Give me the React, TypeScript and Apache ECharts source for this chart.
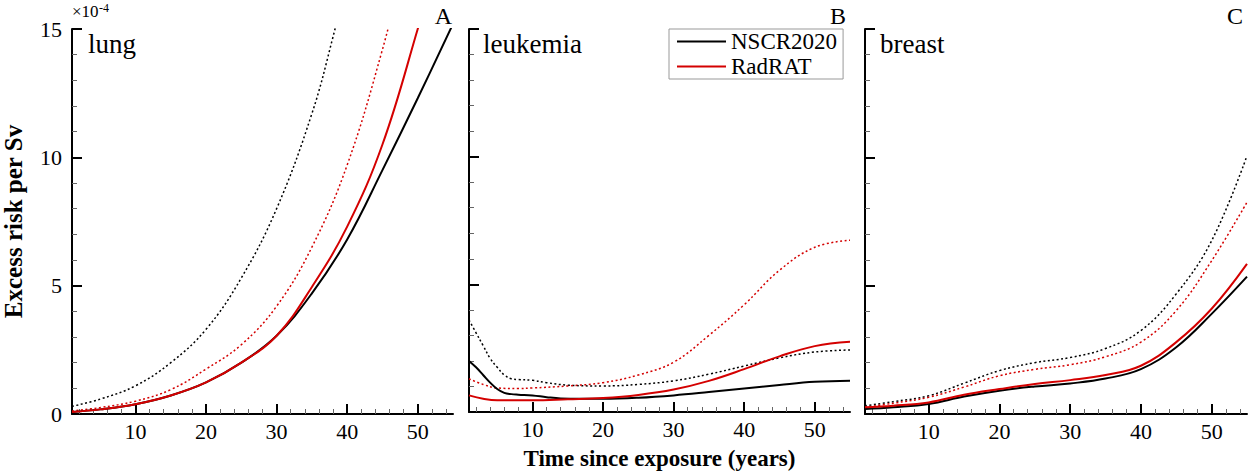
import React, { useEffect, useRef } from "react";
import * as echarts from "echarts";

const FONT = "Liberation Serif, Times New Roman, serif";
const RED = "#d40000";
const BLACK = "#000000";

const panelNames = ["lung", "leukemia", "breast"];
const panelLetters = ["A", "B", "C"];
const majorXTicks = [10, 20, 30, 40, 50];
const minorXTicks = [2, 4, 6, 8, 12, 14, 16, 18, 22, 24, 26, 28, 32, 34, 36, 38, 42, 44, 46, 48, 52, 54];
const legendNames = ["NSCR2020", "RadRAT"];

// lung (×10^-4 per Sv)
const lungNscr = [[1, 0.08], [5, 0.18], [10, 0.38], [15, 0.72], [20, 1.23], [25, 2.0], [30, 3.05], [35, 4.7], [40, 6.8], [45, 9.5], [50, 12.3], [55, 15.2]];
const lungRad = [[1, 0.08], [5, 0.18], [10, 0.38], [15, 0.72], [20, 1.23], [25, 2.0], [30, 3.05], [35, 4.95], [40, 7.3], [45, 10.5], [50, 15.0], [52, 17.0]];
const lungNscrUpper = [[1, 0.3], [5, 0.58], [10, 1.1], [15, 2.0], [20, 3.3], [25, 5.3], [30, 8.0], [35, 11.7], [38, 14.7], [40, 17.0]];
const lungRadUpper = [[1, 0.12], [5, 0.25], [10, 0.5], [15, 0.95], [20, 1.75], [25, 2.7], [30, 4.2], [35, 6.5], [40, 9.7], [45, 14.2], [48, 17.5]];

// leukemia
const leukNscr = [[1, 2.0], [2, 1.75], [3, 1.45], [4, 1.15], [5, 0.9], [6, 0.75], [7, 0.7], [8, 0.68], [10, 0.65], [12, 0.58], [14, 0.53], [17, 0.52], [20, 0.52], [25, 0.56], [30, 0.65], [35, 0.78], [40, 0.92], [45, 1.06], [50, 1.18], [55, 1.22]];
const leukNscrUpper = [[1, 3.6], [2, 3.1], [3, 2.6], [4, 2.1], [5, 1.75], [6, 1.45], [7, 1.3], [8, 1.27], [10, 1.24], [12, 1.15], [15, 1.05], [20, 1.02], [25, 1.08], [30, 1.22], [35, 1.48], [40, 1.8], [45, 2.12], [50, 2.35], [55, 2.43]];
const leukRad = [[1, 0.65], [3, 0.52], [5, 0.46], [10, 0.46], [15, 0.5], [20, 0.55], [25, 0.67], [30, 0.88], [35, 1.22], [40, 1.68], [45, 2.18], [50, 2.58], [55, 2.75]];
const leukRadUpper = [[1, 1.3], [3, 1.08], [5, 0.94], [8, 0.92], [10, 0.94], [15, 1.02], [20, 1.15], [25, 1.45], [30, 1.95], [35, 3.0], [40, 4.2], [45, 5.55], [50, 6.45], [55, 6.73]];

// breast
const breastNscr = [[1, 0.19], [5, 0.26], [10, 0.39], [15, 0.68], [20, 0.91], [25, 1.07], [30, 1.19], [35, 1.38], [40, 1.75], [45, 2.6], [50, 3.9], [55, 5.35]];
const breastRad = [[1, 0.26], [5, 0.32], [10, 0.45], [15, 0.75], [20, 0.97], [25, 1.17], [30, 1.32], [35, 1.52], [40, 1.88], [45, 2.8], [50, 4.1], [55, 5.85]];
const breastNscrUpper = [[1, 0.32], [5, 0.48], [10, 0.71], [15, 1.2], [20, 1.69], [25, 2.0], [30, 2.2], [35, 2.55], [40, 3.25], [45, 4.68], [50, 6.75], [55, 10.06]];
const breastRadUpper = [[1, 0.26], [5, 0.42], [10, 0.65], [15, 1.05], [20, 1.49], [25, 1.74], [30, 1.92], [35, 2.23], [40, 2.8], [45, 4.03], [50, 5.97], [55, 8.25]];

const panels = [
  { nscr: lungNscr, rad: lungRad, nscrU: lungNscrUpper, radU: lungRadUpper },
  { nscr: leukNscr, rad: leukRad, nscrU: leukNscrUpper, radU: leukRadUpper },
  { nscr: breastNscr, rad: breastRad, nscrU: breastNscrUpper, radU: breastRadUpper },
];

const gridLefts = [72, 469, 865];
const gridWidths = [381, 381, 382];

export default function App() {
  const ref = useRef<HTMLDivElement>(null);
  useEffect(() => {
    if (!ref.current) return;
    const chart = echarts.init(ref.current, null, { renderer: "svg" });
    const grids = gridLefts.map((l, i) => ({ left: l, top: 29, width: gridWidths[i], height: 385 }));
    const xAxis: any[] = [];
    const yAxis: any[] = [];
    const series: any[] = [];
    panels.forEach((p, i) => {
      xAxis.push({
        type: "value", gridIndex: i, min: 1, max: 55, position: "bottom",
        axisLine: { show: true, onZero: false, lineStyle: { color: "#000", width: 2 } },
        axisTick: { show: true, inside: true, length: 10, customValues: majorXTicks, lineStyle: { color: "#000", width: 2 } },
        axisLabel: { show: true, customValues: majorXTicks, margin: 6, color: "#000", fontSize: 22, fontFamily: FONT },
        splitLine: { show: false },
        name: i === 1 ? "Time since exposure (years)" : "",
        nameLocation: "middle", nameGap: 35,
        nameTextStyle: { fontFamily: FONT, fontSize: 23, fontWeight: "bold", color: "#000" },
      });
      xAxis.push({
        type: "value", gridIndex: i, min: 1, max: 55, position: "bottom", offset: 0,
        axisLine: { show: false, onZero: false },
        axisTick: { show: true, inside: true, length: 5, customValues: minorXTicks, lineStyle: { color: "#666", width: 1 } },
        axisLabel: { show: false },
        splitLine: { show: false },
      });
      yAxis.push({
        type: "value", gridIndex: i, min: 0, max: 15, interval: 5,
        axisLine: { show: true, onZero: false, lineStyle: { color: "#000", width: 2 } },
        axisTick: { show: true, inside: true, length: 10, lineStyle: { color: "#000", width: 2 } },
        minorTick: { show: true, splitNumber: 5, length: 5, lineStyle: { color: "#666", width: 1 } },
        axisLabel: { show: i === 0, margin: 10, color: "#000", fontSize: 22, fontFamily: FONT },
        splitLine: { show: false },
        name: i === 0 ? "Excess risk per Sv" : "",
        nameLocation: "middle", nameGap: 46,
        nameTextStyle: { fontFamily: FONT, fontSize: 25, fontWeight: "bold", color: "#000" },
      });
      const common = { type: "line", xAxisIndex: 2 * i, yAxisIndex: i, symbol: "none", smooth: 0.4, clip: true };
      series.push({ ...common, name: "NSCR2020 upper", data: p.nscrU, itemStyle: { color: BLACK }, lineStyle: { color: BLACK, width: 1.5, type: [2, 2.5] } });
      series.push({ ...common, name: "RadRAT upper", data: p.radU, itemStyle: { color: RED }, lineStyle: { color: RED, width: 1.5, type: [2, 2.5] } });
      series.push({ ...common, name: "NSCR2020", data: p.nscr, itemStyle: { color: BLACK }, lineStyle: { color: BLACK, width: 2 } });
      series.push({ ...common, name: "RadRAT", data: p.rad, itemStyle: { color: RED }, lineStyle: { color: RED, width: 2 } });
    });

    const titleX = [88, 483, 880];
    const letterX = [452, 846, 1243];
    const graphic: any[] = [];
    panelNames.forEach((n, i) => {
      graphic.push({ type: "text", x: titleX[i], y: 44, style: { text: n, fontFamily: FONT, fontSize: 27, fill: "#000", verticalAlign: "middle", align: "left" } });
      graphic.push({ type: "text", x: letterX[i], y: 16, style: { text: panelLetters[i], fontFamily: FONT, fontSize: 24, fill: "#000", verticalAlign: "middle", align: "right" } });
    });
    graphic.push({ type: "text", x: 72, y: 11, style: { text: "×10", fontFamily: FONT, fontSize: 17, fill: "#000", verticalAlign: "middle", align: "left" } });
    graphic.push({ type: "text", x: 99, y: 8, style: { text: "-4", fontFamily: FONT, fontSize: 12, fill: "#000", verticalAlign: "middle", align: "left" } });

    chart.setOption({
      animation: false,
      backgroundColor: "#fff",
      grid: grids,
      xAxis,
      yAxis,
      series,
      legend: {
        data: legendNames.map((n) => ({ name: n, icon: "rect" })), left: 669, top: 29, orient: "vertical", selectedMode: false,
        itemWidth: 49, itemHeight: 2, itemGap: 2, padding: [1, 6, 1, 8],
        borderColor: "#999", borderWidth: 1, backgroundColor: "#fff",
        textStyle: { fontFamily: FONT, fontSize: 23, color: "#000", lineHeight: 22 },
      },
      graphic,
    });
    return () => chart.dispose();
  }, []);
  return <div ref={ref} style={{ position: "fixed", left: 0, top: 0, width: 1252, height: 475 }} />;
}
